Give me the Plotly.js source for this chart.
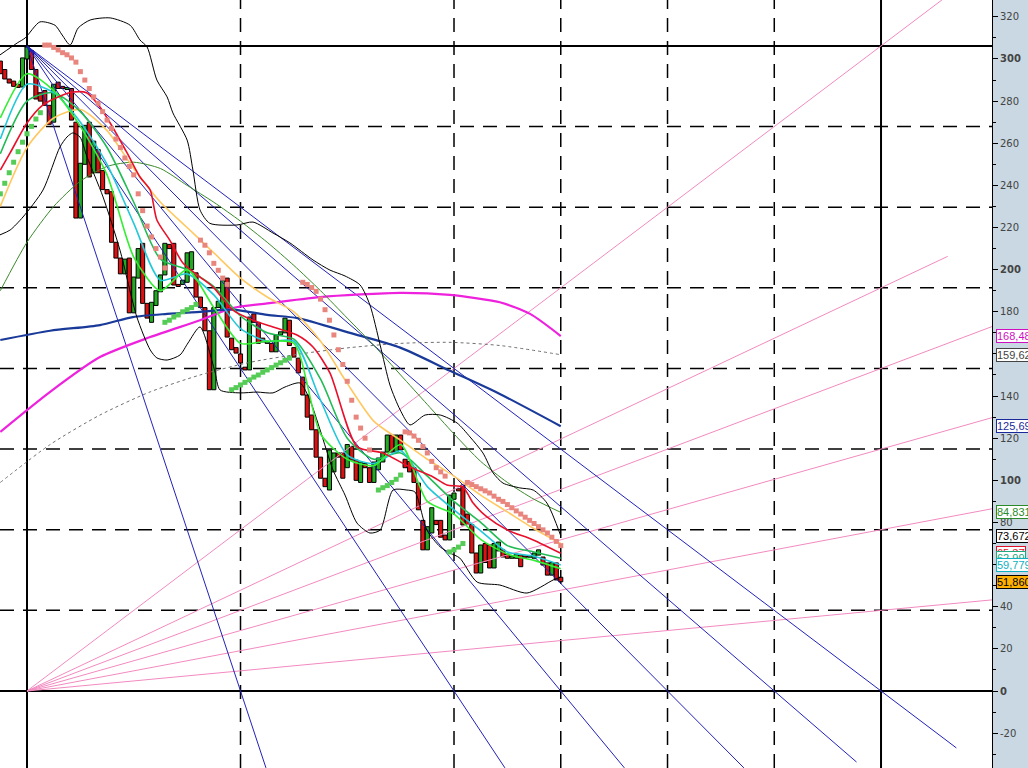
<!DOCTYPE html>
<html><head><meta charset="utf-8">
<script src="https://cdn.plot.ly/plotly-3.0.1.min.js"></script>
<style>html,body{margin:0;padding:0;background:#fff}#chart{width:1028px;height:768px}</style>
</head><body><div id="chart"></div>
<script>
// ---- candle data (bar index k, open, close) ----
const barK = [];
for (let k = -6; k <= 120; k++) barK.push(k);
const opens = [299,295,290.5,289.5,288,286.7,300, 304,295,284,285,278,270,289,287,285.5,286,270,224.5,250,270,246,257,247,238,237,213,205.5,198,205.5,179.5,196,212.5,184,175,183,189.5,197.5,212,212.5,193,193,194,200,198.5,187,182,171,143,182,181,196,167.5,163,160,153.7,152.4,179,175,167.5,165,165,161,169,170,176,163,158,149,140.5,131,124,111,101,95.4,104,113,113,106,116,109.6,99,108,106,99,105,108.7,113.4,121.5,113.4,121.5,110,109,106,98.7,81,67,75,81,81,74,71.7,91,96,97.8,84,79,65.5,56,70,69.3,58.4,66.5,67,65,63,63,64.6,64,63.5,63,64.5,63.6,60.8,55,60.8,54];
const closes = [293,290.5,288.6,287,286.5,300.5,305.7, 295,281,280,278,269,288,286,286,286.5,271,224.5,250.5,268.5,244,261,246,238,236,213,205.5,198,205,179.5,196.5,210,184,177,184.5,190,197.5,212.5,210,192.7,192,195,208,208.5,187,182,171,143,182,185,195,168,162,160.4,155.7,152.4,177.5,175,165,165.7,166,161,169,170.5,177,164,158.5,151,140.5,130,124,111,101,97,114.4,113,111,101,117,109.6,100,108.7,106,99,108.7,110.6,113.4,121.5,113.4,121.5,114.4,106,104,99,86,67,78,87,79,73,71.7,93,94,95,78.8,79,65.5,56,69.3,61,58.4,70,70.7,63.6,63,64,65,59,63.5,64.2,65.5,67,59.8,55,61,52.7,51.86];

// ---- indicator lines, read at sample bar indexes ----
const K6 = [-6,0,6,12,18,24,30,36,42,48,54,60,66,72,78,84,90,96,102,108,114,120];
const limeMA   = [272,293,285,268,245,206,190,200,182,165,166,165,122,110,107,117,90,84,72,65,62,58];
const cyanMA   = [262,288,284,270,250,222,195,198,188,172,166,166,138,112,108,114,97,86,76,66,64,59.8];
const tealMA   = [255,280,284,275,258,232,205,200,192,178,170,167,148,120,110,113,102,90,80,69,66,63];
const orangeMA = [230,258,272,276,266,248,232,220,208,196,187,180,166,146,128,119,110,102,93,85,77,70];
const dgreenMA = [190,213,230,242,249,251,248,240,232,223,213,202,190,177,164,150,136,122,109,99,91,84.8];

const redK = [-6,-3.8,0,3.6,7,10.3,13.5,16.4,18.7,22.5,25.4,27.7,29.2,32.1,35.1,38.9,41.8,46.3,50.8,55.3,60.7,64.3,68.1,74.2,80,86.1,91.3,94.4,98,100.3,103.4,108,113.8,120];
const redMA = [247.3,255.4,269.6,278.2,282,284.3,283.9,277.2,269.6,255.4,244,237.8,223.6,214,203,196.5,191.8,180.8,176,172.8,169,163.3,151,116,113,106.3,101.6,97.8,96.8,89.2,82.6,76.4,71.7,65.37];

const blueK = [-6,5.2,16.4,23.8,31.5,38.9,46.3,54,60.8,72.6,83.9,95.1,106.3,120];
const blueMA = [166.6,171,173.7,177.5,179,180,181,178.5,177,170,163,152,141,125.69];

const magK = [-6,5.2,16.4,27.7,38.9,46.3,54,65.9,83.9,95.1,106.3,113.1,120];
const magMA = [123,142,158.5,168,176,181.8,184,187,189,188,184.5,179,168.48];

const greyK = [-6,5.2,16.4,27.7,38.9,50.1,61.4,72.6,83.9,95.1,106.3,120];
const greyMA = [99,117,131,142,150,156,160,163,165,165.5,164,159.62];

const bbUpK = [-6.1,-2.2,-0.4,2.9,6.3,7.9,9.7,11.5,14.2,18.7,23.2,25.4,27,29.2,31.5,32.8,36,37.3,38.9,41.1,47.2,50.8,55.3,59.1,64.3,68.1,71.5,74.9,77.1,79.4,81.6,83.9,86.1,89.5,92.9,96.7,99.6,102.5,104.8,107,110.8,113.8,116.9,120];
const bbUp = [301.9,307.6,310,317.6,316,311.4,306.6,314.7,318.5,319.5,316,309,305.7,290,282,274.4,261.5,247.3,228.3,222,221.2,222.6,217.4,212.7,204.6,199.8,197,192.7,183.2,164.2,145.2,133.4,126.3,131,131,127.2,120.6,113,103.5,98.7,96.4,95.4,89.2,73.672];
const bbLoK = [-6.1,-3.8,-0.9,3.6,7.4,9,10.3,11.9,13.5,17.1,20.9,24.7,27.7,29.2,31.5,34.4,36.2,38.9,42.2,43.4,47.9,51.7,55.3,58,61.4,63.6,65.9,68.8,71.5,74.2,77.1,79.4,82.3,85.4,87.2,89.9,92.9,95.1,97.3,101.2,106.3,112.4,118.3,120];
const bbLo = [216.5,218.8,225,237.8,258.2,263,264.9,263,253.5,234.5,209.3,177.5,161.9,158.1,157.1,159.5,165.2,172.8,152,142.9,141.5,141.9,141.5,144.3,146.2,138.1,123.9,104.9,93,79.7,75,76.4,95.4,95.4,94.5,76.4,68.4,65.5,63.1,51.7,50.3,46.5,52.7,54.1];

// parabolic SAR dots
const sarUpK = [4,5,6,7,8,9,10,11,12,13,14,15,16,17,18,19,20,21,22,23,24,25,26,27,28,29,30,31,
                39,40,41,42,43,44,45,
                62,63,64,65,66,67,68,69,70,71,72,73,74,75,76,77,
                85,86,87,88,89,90,91,92,93,94,
                99,100,101,102,103,104,105,106,107,108,109,110,111,112,113,114,115,116,117,118,119,120];
const sarUpV = [306.6,306.6,305.5,304.3,303,302,300.5,298.5,294,290,286,282,279,275,271,267,262,258,253,249,245,236,228,220.7,215.5,210,206,200.8,
                214,211.6,208,203,199.7,196,193,
                194,193,191.5,189.7,186,181,176,169,162,155,147,138,130,124.8,120,114.4,
                123,122.5,121,119,116,113,109,106,104,102,
                99,98,97,96,95,94,92.5,91,90,88.5,87,85.5,84,82.5,81,79.5,78,76.5,75,73,71,69];
const sarDnK = [-6,-5,-4,-3,-2,-1,0,1,2,3,
                31,32,33,34,35,36,37,38,
                46,47,48,49,50,51,52,53,54,55,56,57,58,59,
                79,80,81,82,83,84,
                95,96,97,98];
const sarDnV = [236,241,246,251,256,260.5,264.5,268,271.5,274.5,
                175,176,177.5,178.5,180,181,182,183.5,
                143,144,145.3,146.5,147.7,149,150,151.3,152.4,153.5,154.7,155.8,157,158,
                95.4,96.5,97.5,99,100.5,102.5,
                66,67,68.3,70];

// Gann grid & fans
const topPrice = 306.2;
const fullBars = 192;
const hGridN = [1,2,3,4,5,6,7];
const vGridDash = [48,96,120,144,168];
const vGridSolid = [0,192];
const pinkFanN = [8,5,4,3,2,1];
const pinkFanEndK = [217,207,217,217,217,217];
const blueFanK = [48,96,120,144,168,192];
const blueFanEndV = [-36.5,-36.5,-36.5,-36.5,-33.7,-27];

// right-side value labels
const labelVals = [168.48,159.62,125.69,84.831,73.672,65.37,62.99,59.779,51.86];
const labelTexts = ['168,48','159,62','125,69','84,831','73,672','65,37','62,99','59,779','51,860'];
const labelColors = ['#d010c0','#444444','#1a2a9a','#2a8a2a','#000000','#e0102a','#20a880','#10b0c0','#000000'];
const labelBg = ['#fff','#fff','#fff','#fff','#fff','#fff','#fff','#fff','#ffb000'];

// y-axis ticks
const yTicks = [-20,0,20,40,60,80,100,120,140,160,180,200,220,240,260,280,300,320];

// ---------------- build ----------------
const traces = [];
const shapes = [];
const gridDash = '14px,9px';
hGridN.forEach(n => shapes.push({type:'line',xref:'paper',x0:0,x1:1,yref:'y',y0:n*topPrice/8,y1:n*topPrice/8,line:{color:'#000',width:1.5,dash:gridDash},layer:'below'}));
[0, topPrice].forEach(v => shapes.push({type:'line',xref:'paper',x0:0,x1:1,yref:'y',y0:v,y1:v,line:{color:'#000',width:2},layer:'below'}));
vGridDash.forEach(k => shapes.push({type:'line',xref:'x',x0:k,x1:k,yref:'paper',y0:0,y1:1,line:{color:'#000',width:1.5,dash:gridDash},layer:'below'}));
vGridSolid.forEach(k => shapes.push({type:'line',xref:'x',x0:k,x1:k,yref:'paper',y0:0,y1:1,line:{color:'#000',width:2},layer:'below'}));

const slope = topPrice / fullBars;
pinkFanN.forEach((n,i) => traces.push({type:'scatter',mode:'lines',x:[0,pinkFanEndK[i]],y:[0,pinkFanEndK[i]*slope*n/8],line:{color:'#f28ac0',width:1},hoverinfo:'skip'}));
blueFanK.forEach((k,i) => {
  const v = blueFanEndV[i];
  const kEnd = k * (topPrice - v) / topPrice;
  traces.push({type:'scatter',mode:'lines',x:[0,kEnd],y:[topPrice,v],line:{color:'#2222bb',width:1},hoverinfo:'skip'});
});

function line(x,y,color,width,dash){
  traces.push({type:'scatter',mode:'lines',x:x,y:y,line:{color:color,width:width,dash:dash||'solid',shape:'spline',smoothing:0.7},hoverinfo:'skip'});
}
line(magK,magMA,'#ee22dd',2.2);
line(greyK,greyMA,'#707070',1,'3px,3px');
line(blueK,blueMA,'#1a3a9a',2.2);
line(K6,dgreenMA,'#3a8a2a',1);
line(bbUpK,bbUp,'#000000',1);
line(bbLoK,bbLo,'#000000',1);
line(K6,orangeMA,'#ffc860',1.6);

// candles as floating bars
const base = opens.map((o,i)=>Math.min(o,closes[i]));
const hgt = opens.map((o,i)=>Math.max(Math.abs(closes[i]-o),0.6));
const cols = opens.map((o,i)=> closes[i] >= o ? '#22aa22' : '#dd1111');
traces.push({type:'bar',x:barK,base:base,y:hgt,width:0.92,marker:{color:cols,line:{color:'#000',width:1}},hoverinfo:'skip'});

line(K6,tealMA,'#22bb55',1.6);
line(K6,cyanMA,'#22c8d8',1.6);
line(K6,limeMA,'#33ee33',1.6);
line(redK,redMA,'#e8102a',1.6);

traces.push({type:'scatter',mode:'markers',x:sarUpK,y:sarUpV,marker:{symbol:'square',size:5,color:'#e8867e'},hoverinfo:'skip'});
traces.push({type:'scatter',mode:'markers',x:sarDnK,y:sarDnV,marker:{symbol:'square',size:5,color:'#55cc55'},hoverinfo:'skip'});

const annotations = labelVals.map((v,i)=>({xref:'paper',x:1.0045,xanchor:'left',yref:'y',y:v,yanchor:'middle',text:labelTexts[i],showarrow:false,
  font:{family:'Liberation Sans, Arial, sans-serif',size:11,color:labelColors[i]},bgcolor:labelBg[i],bordercolor:i===8?'#000':labelColors[i],borderwidth:1,borderpad:0}));

const tickText = yTicks.map(v => (v % 100 === 0) ? '<b>'+v+'</b>' : String(v));

const layout = {
  width:1028, height:768,
  margin:{l:0,r:36,t:0,b:0,pad:0},
  paper_bgcolor:'#c9d8e2', plot_bgcolor:'#ffffff',
  showlegend:false, bargap:0,
  xaxis:{range:[-6.07,216.95],visible:false,fixedrange:true},
  yaxis:{side:'right',range:[-36.55,328.0],showgrid:false,zeroline:false,showline:true,linecolor:'#000',linewidth:1,
    ticks:'outside',ticklen:5,tickcolor:'#000',tickvals:yTicks,ticktext:tickText,
    tickfont:{family:'DejaVu Sans, Verdana, sans-serif',size:10,color:'#444'},
    minor:{dtick:10,ticks:'outside',ticklen:3,tickcolor:'#000',showgrid:false}},
  shapes:shapes, annotations:annotations
};
Plotly.newPlot('chart',traces,layout,{staticPlot:true,displayModeBar:false});
</script></body></html>
